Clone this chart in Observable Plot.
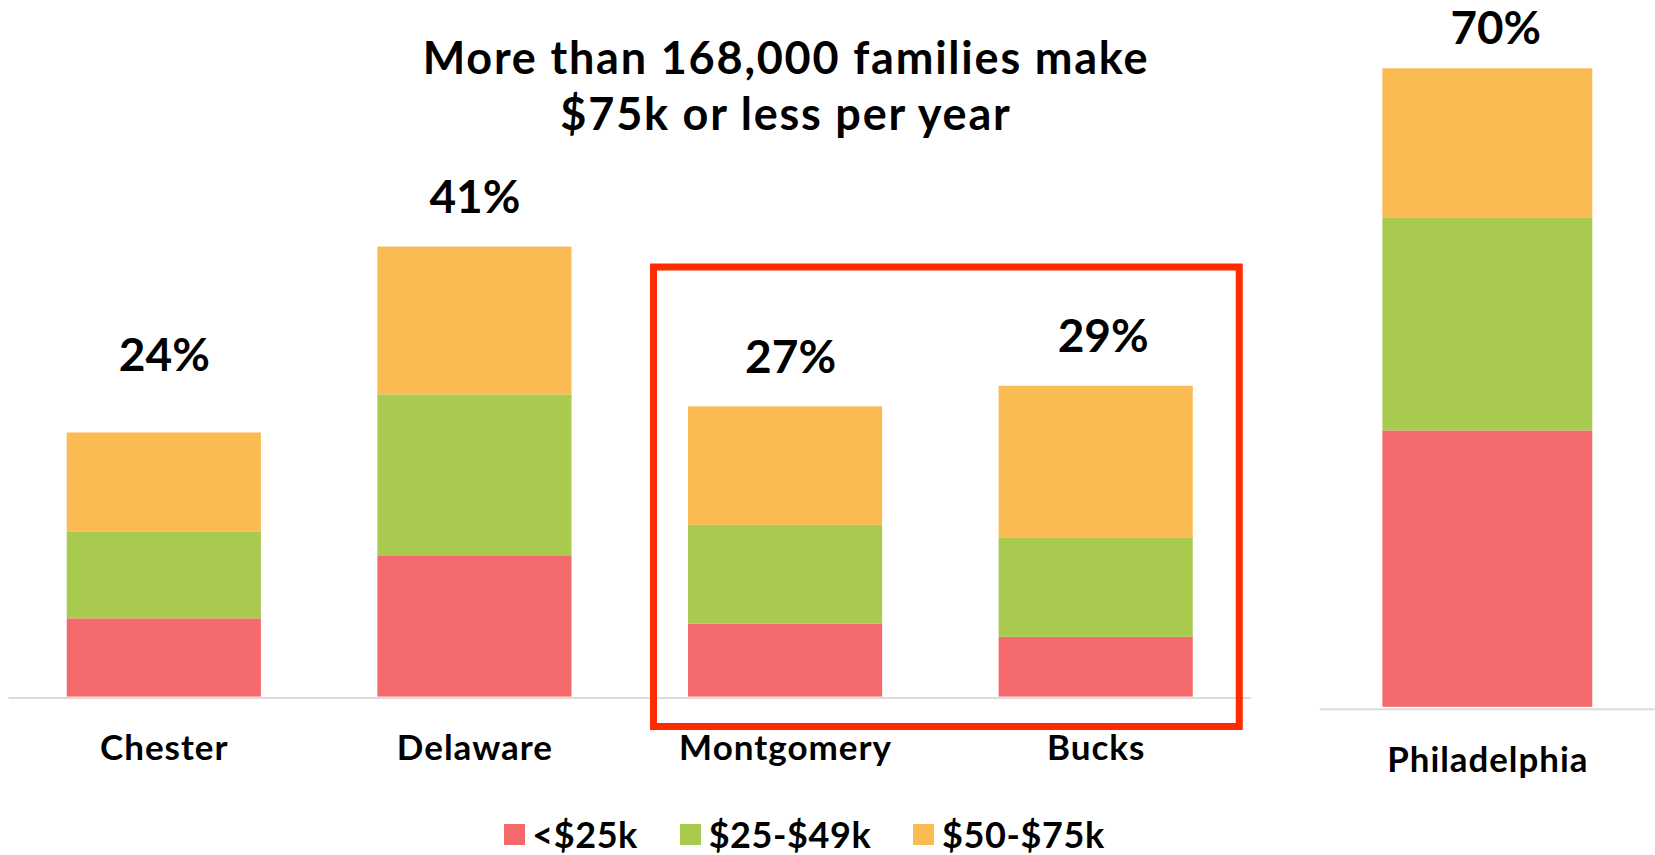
<!DOCTYPE html>
<html>
<head>
<meta charset="utf-8">
<script src="https://cdn.jsdelivr.net/npm/d3@7"></script>
<script src="https://cdn.jsdelivr.net/npm/@observablehq/plot@0.6"></script>
<style>
  html, body { margin: 0; padding: 0; background: #fff; }
  #wrap { position: relative; width: 1655px; height: 855px; overflow: hidden; background: #fff; font-family: Lato, "Open Sans", sans-serif; }
  .panel { position: absolute; top: 0; }
  #title { position: absolute; left: 236px; width: 1100px; top: 29px; text-align: center; font-weight: 700; font-size: 45px; letter-spacing: 1.8px; line-height: 56px; color: #000; z-index: 2; }
  #legend { position: absolute; left: 503.5px; top: 816px; z-index: 2; }
  .lg-swatches { font-family: Lato, "Open Sans", sans-serif !important; font-size: 36px !important; line-height: 36px; letter-spacing: 0.6px; font-weight: 700; color: #000; margin: 0 !important; min-height: 0 !important; }
  .lg-swatch { margin-right: 42px !important; }
  .lg-swatch > svg { margin-right: 7.7px !important; }
  svg g[aria-label="x-axis tick label"] text { font-weight: 700; letter-spacing: 1px; }
</style>
</head>
<body>
<div id="wrap">
  <div id="title"></div>
  <div id="p1" class="panel" style="left:0px"></div>
  <div id="p2" class="panel" style="left:1260px"></div>
  <div id="legend"></div>
</div>
<script>
// ---- data (percent of families) ----
const counties = ["Chester", "Delaware", "Montgomery", "Bucks"];
const cityName = ["Philadelphia"];
const brackets = ["<$25k", "$25-$49k", "$50-$75k"];
const under25k = [7.2, 13.0, 6.7, 5.5];
const from25to49k = [8.0, 14.8, 9.1, 9.1];
const from50to75k = [9.1, 13.6, 10.9, 14.0];
const countyTotalLabels = ["24%", "41%", "27%", "29%"];
const cityUnder25k = [30.3];
const cityFrom25to49k = [23.3];
const cityFrom50to75k = [16.4];
const cityTotalLabels = ["70%"];
const highlighted = ["Montgomery", "Bucks"];
const bracketColors = ["#f46a6c", "#a8ca4f", "#fabb52"];
const titleLines = ["More than 168,000 families make", "$75k or less per year"];

// label placement tweaks (style only)
const labelNudge = {
  Chester: {dx: 0, dy: -77},
  Delaware: {dx: 0, dy: -49},
  Montgomery: {dx: 5, dy: -49},
  Bucks: {dx: 7, dy: -49},
  Philadelphia: {dx: 8, dy: -40}
};

// ---- build tables ----
function rowsFor(names, series) {
  return names.flatMap((n, i) => brackets.map((b, j) => ({name: n, bracket: b, value: series[j][i]})));
}
function totalsFor(names, series, labels) {
  return names.map((n, i) => ({name: n, total: d3.sum(series, s => s[i]), label: labels[i]}));
}
function totalLabelMarks(names, totals) {
  return names.map(n => Plot.text(totals, {
    filter: d => d.name === n, x: "name", y: "total", text: "label",
    dx: labelNudge[n].dx, dy: labelNudge[n].dy,
    fontSize: 46, fontWeight: 700, fill: "#000"
  }));
}
const countySeries = [under25k, from25to49k, from50to75k];
const citySeries = [cityUnder25k, cityFrom25to49k, cityFrom50to75k];
const countyRows = rowsFor(counties, countySeries);
const countyTotals = totalsFor(counties, countySeries, countyTotalLabels);
const cityRows = rowsFor(cityName, citySeries);
const cityTotals = totalsFor(cityName, citySeries, cityTotalLabels);

const FONT = "Lato, 'Open Sans', sans-serif";
const color = {domain: brackets, range: bracketColors};

document.getElementById("title").innerHTML = titleLines.join("<br>");

// ---- suburban counties ----
const left = Plot.plot({
  width: 1260, height: 790,
  marginLeft: 8.5, marginRight: 9, marginTop: 44.4, marginBottom: 93.4,
  style: {fontFamily: FONT, color: "#000", background: "transparent", overflow: "visible"},
  x: {domain: counties, paddingInner: 0.375, paddingOuter: 0.1875, round: false, label: null},
  y: {domain: [0, 60], axis: null},
  color,
  marks: [
    Plot.barY(countyRows, {x: "name", y: "value", fill: "bracket"}),
    Plot.ruleY([0], {stroke: "#dcdcdc", strokeWidth: 2, dy: 1}),
    Plot.axisX({tickSize: 0, tickPadding: 38, fontSize: 35, fontWeight: 700, label: null}),
    ...totalLabelMarks(counties, countyTotals)
  ]
});
// highlight frame around Montgomery & Bucks, positioned from the plot's own scales
{
  const sx = left.scale("x"), sy = left.scale("y");
  const x0 = sx.apply(highlighted[0]) - 34.5;
  const x1 = sx.apply(highlighted[1]) + sx.bandwidth + 46.5;
  const base = sy.apply(0);
  d3.select(left).append("rect")
    .attr("x", x0).attr("y", base - 429.6)
    .attr("width", x1 - x0).attr("height", 459.5)
    .attr("fill", "none").attr("stroke", "#ff2a00").attr("stroke-width", 7);
}
document.getElementById("p1").appendChild(left);

// ---- Philadelphia ----
const right = Plot.plot({
  width: 397, height: 790,
  marginLeft: 60, marginRight: 0, marginTop: 22.8, marginBottom: 79.6,
  style: {fontFamily: FONT, color: "#000", background: "transparent", overflow: "visible"},
  x: {domain: cityName, paddingInner: 0.23, paddingOuter: 0.23, round: false, label: null},
  y: {domain: [0, 75], axis: null},
  color,
  marks: [
    Plot.barY(cityRows, {x: "name", y: "value", fill: "bracket"}),
    Plot.ruleY([0], {stroke: "#dcdcdc", strokeWidth: 2, dy: 2}),
    Plot.axisX({tickSize: 0, tickPadding: 40, fontSize: 35, fontWeight: 700, label: null}),
    ...totalLabelMarks(cityName, cityTotals)
  ]
});
document.getElementById("p2").appendChild(right);

// ---- legend ----
const legend = Plot.legend({color, legend: "swatches", swatchSize: 21, className: "lg"});
document.getElementById("legend").appendChild(legend);
</script>
</body>
</html>
